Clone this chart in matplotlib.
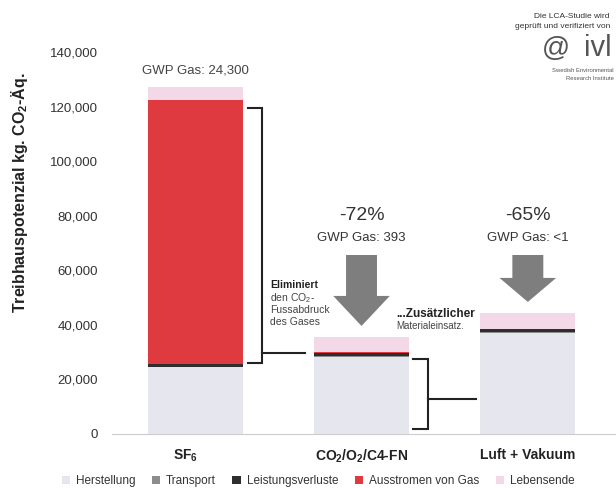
import matplotlib
matplotlib.use("Agg")
import matplotlib.pyplot as plt
import matplotlib.transforms as mtransforms
from matplotlib.patches import Patch
import numpy as np

plt.rcParams['font.family'] = ['Liberation Sans', 'DejaVu Sans']
plt.rcParams['mathtext.fontset'] = 'custom'
plt.rcParams['mathtext.rm'] = 'Liberation Sans'
plt.rcParams['mathtext.bf'] = 'Liberation Sans:bold'
plt.rcParams['mathtext.it'] = 'Liberation Sans:italic'

# ---- data ----
categories = ["SF$_\\mathbf{6}$", "CO$_\\mathbf{2}$/O$_\\mathbf{2}$/C4-FN", "Luft + Vakuum"]
series_names = ["Herstellung", "Transport", "Leistungsverluste", "Ausstromen von Gas", "Lebensende"]
herstellung = [24500, 28400, 37000]
transport = [150, 200, 200]
leistungsverluste = [1000, 1000, 1300]
ausstromen = [96800, 400, 0]
lebensende = [4800, 5500, 5800]
colors = ["#e6e6ee", "#8c8c8c", "#2e2e2e", "#df3a3f", "#f3d9e7"]
top_labels = ["GWP Gas: 24,300", "GWP Gas: 393", "GWP Gas: <1"]
reductions = ["", "-72%", "-65%"]
yticks = [0, 20000, 40000, 60000, 80000, 100000, 120000, 140000]

fig = plt.figure(figsize=(6.16, 4.88), dpi=100)
ax = fig.add_axes([112/616, 1-434/488, 1-112/616, (434-52)/488])
x = np.arange(len(categories))
width = 0.57
bottom = np.zeros(len(categories))
for vals, c, name in zip([herstellung, transport, leistungsverluste, ausstromen, lebensende], colors, series_names):
    ax.bar(x, vals, width, bottom=bottom, color=c, label=name, linewidth=0)
    bottom += np.array(vals)

ax.set_xlim(-0.5, 2.53)
ax.set_ylim(0, 140000)
ax.set_yticks(yticks)
ax.set_yticklabels([f"{v:,}" for v in yticks], fontsize=9.5, color="#333333")
ax.tick_params(axis='y', length=0, pad=10)
ax.set_xticks(x)
ax.set_xticklabels(categories, fontsize=10, fontweight='bold', color="#222222")
ax.tick_params(axis='x', length=0, pad=10)
# first category label sits a little left of its bar in the original
lab0 = ax.get_xticklabels()[0]
lab0.set_transform(lab0.get_transform() + mtransforms.ScaledTranslation(-10/100, 0, fig.dpi_scale_trans))
for s in ["top", "right", "left"]:
    ax.spines[s].set_visible(False)
ax.spines["bottom"].set_color("#cccccc")
ax.spines["bottom"].set_linestyle((0, (1, 1)))
ax.spines["bottom"].set_linewidth(0.8)

fig.text(20/616, 1-193/488, "Treibhauspotenzial kg. CO$_\\mathbf{2}$-Äq.", rotation=90,
         ha='center', va='center', fontsize=11.5, fontweight='bold', color="#222222")

# top labels
totals = bottom
ax.text(x[0], totals[0] + 6000, top_labels[0], ha='center', va='center', fontsize=9.5, color="#444444")
for i in [1, 2]:
    ax.text(x[i], 80000, reductions[i], ha='center', va='center', fontsize=14, color="#333333")
    ax.text(x[i], 72000, top_labels[i], ha='center', va='center', fontsize=9.5, color="#333333")

# arrows (shaft top, head base, tip)
def down_arrow(xc, top, base, tip, sw, hw):
    xs = [xc - sw/2, xc + sw/2, xc + sw/2, xc + hw/2, xc, xc - hw/2, xc - sw/2]
    ys = [top, top, base, base, tip, base, base]
    ax.fill(xs, ys, color="#7e7e7e", linewidth=0)

down_arrow(x[1], 65600, 50600, 39600, 0.186, 0.34)
down_arrow(x[2], 65600, 57200, 48400, 0.186, 0.34)

# brackets
lc = "#222222"
lw = 1.5
b0 = x[0] + 0.318
bx = x[0] + 0.402
ax.plot([b0, bx, bx, b0], [119600, 119600, 26000, 26000], color=lc, lw=lw, solid_joinstyle='miter')
ax.plot([bx, x[1] - 0.34], [29700, 29700], color=lc, lw=lw)
c0 = x[1] + 0.31
cx = x[1] + 0.40
ax.plot([c0, cx, cx, c0], [27500, 27500, 1900, 1900], color=lc, lw=lw, solid_joinstyle='miter')
ax.plot([cx, x[2] - 0.31], [12800, 12800], color=lc, lw=lw)

# annotation texts
fig.text(270/616, 1-285/488, "Eliminiert", fontsize=7.5, fontweight='bold', color="#222222", va='center')
fig.text(270/616, 1-298/488, "den CO$_2$-", fontsize=7.5, color="#444444", va='center')
fig.text(270/616, 1-310/488, "Fussabdruck", fontsize=7.5, color="#444444", va='center')
fig.text(270/616, 1-322/488, "des Gases", fontsize=7.5, color="#444444", va='center')
fig.text(396/616, 1-314/488, "...Zusätzlicher", fontsize=8.5, fontweight='bold', color="#222222", va='center')
fig.text(396/616, 1-326/488, "Materialeinsatz.", fontsize=7, color="#444444", va='center')

# logo area
fig.text(610/616, 1-17/488, "Die LCA-Studie wird", fontsize=6, ha='right', va='center', color="#333333")
fig.text(610/616, 1-27/488, "geprüft und verifiziert von", fontsize=6, ha='right', va='center', color="#333333")
fig.text(556/616, 1-49/488, "@", fontsize=20, ha='center', va='center', color="#555555")
fig.text(612/616, 1-48/488, "ivl", fontsize=21, ha='right', va='center', color="#555555")
fig.text(614/616, 1-70/488, "Swedish Environmental", fontsize=4.2, ha='right', va='center', color="#555555")
fig.text(614/616, 1-78/488, "Research Institute", fontsize=4.2, ha='right', va='center', color="#555555")

# legend
handles = [Patch(facecolor=c, edgecolor='none') for c in colors]
fig.legend(handles, series_names, loc='center', bbox_to_anchor=(318/616, 1-481/488), ncol=5,
           frameon=False, fontsize=8.5, handlelength=0.7, handleheight=0.7, handletextpad=0.5,
           columnspacing=1.4, labelcolor="#333333")

fig.savefig("out.png", dpi=100)
